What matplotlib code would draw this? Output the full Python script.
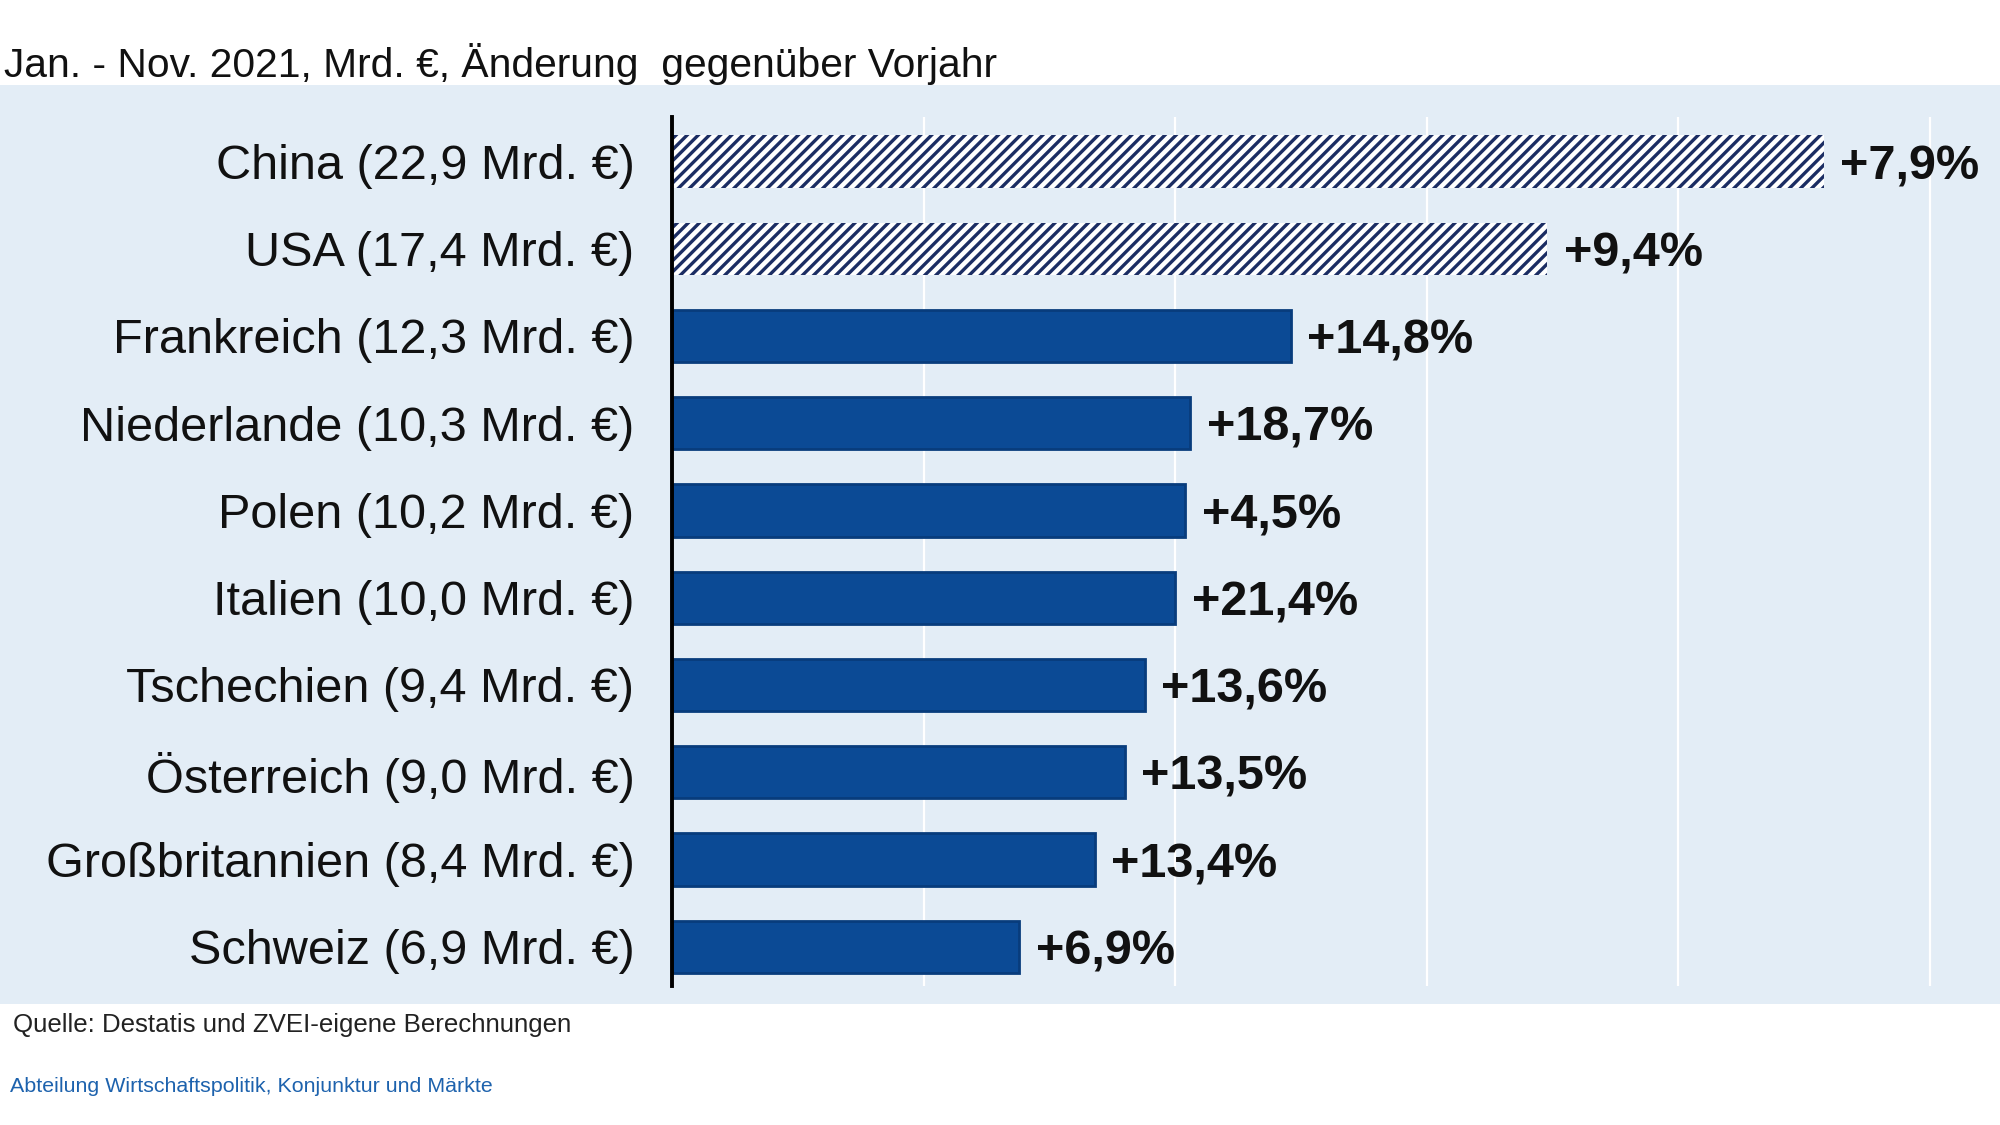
import matplotlib
matplotlib.use("Agg")
import matplotlib.pyplot as plt

# ---- data ----
countries = ["China", "USA", "Frankreich", "Niederlande", "Polen", "Italien",
             "Tschechien", "Österreich", "Großbritannien", "Schweiz"]
values = [22.9, 17.4, 12.3, 10.3, 10.2, 10.0, 9.4, 9.0, 8.4, 6.9]
changes = [7.9, 9.4, 14.8, 18.7, 4.5, 21.4, 13.6, 13.5, 13.4, 6.9]
hatched_countries = ["China", "USA"]
title = "Jan. - Nov. 2021, Mrd. €, Änderung  gegenüber Vorjahr"
source = "Quelle: Destatis und ZVEI-eigene Berechnungen"
dept = "Abteilung Wirtschaftspolitik, Konjunktur und Märkte"
x_ticks = [0, 5, 10, 15, 20, 25]

def fmt(v):
    return f"{v:.1f}".replace(".", ",")

labels = [f"{c} ({fmt(v)} Mrd. €)" for c, v in zip(countries, values)]
change_labels = [f"+{fmt(ch)}%" for ch in changes]

plt.rcParams['font.family'] = ['Liberation Sans', 'DejaVu Sans']
plt.rcParams['hatch.linewidth'] = 1.2

W, H = 2000, 1125
fig = plt.figure(figsize=(10, 5.625), dpi=200)
fig.patch.set_facecolor("white")

# background panel (separate axes behind the chart)
panel_col = "#e3edf6"
bg = fig.add_axes([0, 1 - 1004 / H, 1, (1004 - 85) / H], zorder=-1)
bg.set_facecolor(panel_col)
bg.set_xticks([]); bg.set_yticks([])
for s in bg.spines.values():
    s.set_visible(False)

ax = fig.add_axes([672 / W, 1 - 986 / H, 1 - 672 / W, (986 - 117) / H], zorder=1)
ax.set_facecolor("none")

n = len(countries)
ypos = list(range(n))
for i, (c, v) in enumerate(zip(countries, values)):
    if c in hatched_countries:
        ax.barh(i, v, height=0.6, left=0, facecolor="white", edgecolor="#1b2d63",
                hatch="//////", linewidth=0, zorder=3)
    else:
        ax.barh(i, v, height=0.6, left=0, facecolor="#0b4a95", edgecolor="#083c7c",
                linewidth=1.0, zorder=3)
    ax.text(v + 0.33, i + 0.06, change_labels[i], ha="left", va="center",
            fontsize=17.5, fontweight="bold", color="#111111", zorder=4)

ax.set_xlim(0, (W - 672) / 50.3)
ax.set_ylim(n - 1 + 0.45, -0.51)
ax.set_xticks(x_ticks)
ax.xaxis.grid(True, color="white", linewidth=0.8, zorder=1)
ax.set_axisbelow(True)
ax.tick_params(axis="x", length=0, labelbottom=False)
ax.set_yticks(ypos)
ax.set_yticklabels(labels, fontsize=17.5, color="#111111")
ax.tick_params(axis="y", length=0, pad=13.5)
for s in ["top", "right", "bottom"]:
    ax.spines[s].set_visible(False)
ax.spines["left"].set_color("black")
ax.spines["left"].set_linewidth(1.4)
ax.spines["left"].set_zorder(5)

fig.text(4 / W, 1 - 64 / H, title, ha="left", va="center", fontsize=14.7, color="#111111")
fig.text(13 / W, 1 - 1025 / H, source, ha="left", va="center", fontsize=9.3, color="#222222")
fig.text(10 / W, 1 - 1087 / H, dept, ha="left", va="center", fontsize=7.7, color="#1d62ad")

fig.savefig("out.png", dpi=200)
